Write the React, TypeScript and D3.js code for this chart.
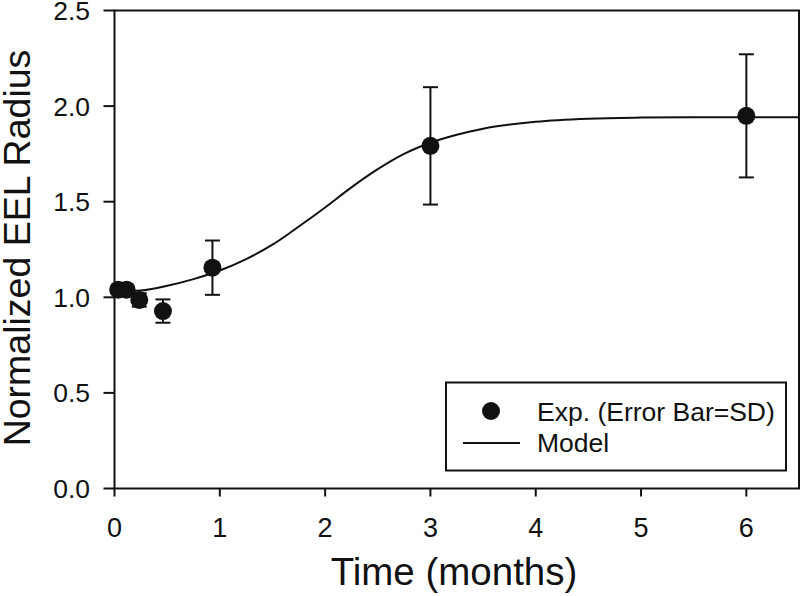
import React from "react";
import * as d3 from "d3";

// Experimental data (time in months, normalized EEL radius, SD)
const expTime = [0.035, 0.115, 0.235, 0.46, 0.93, 3.0, 6.0];
const expValue = [1.04, 1.04, 0.986, 0.928, 1.155, 1.792, 1.949];
const expSD = [0.02, 0.02, 0.035, 0.061, 0.142, 0.307, 0.322];

// Model curve
const modelTime = [0, 0.25, 0.5, 0.75, 1.0, 1.25, 1.5, 1.75, 2.0, 2.25, 2.5, 2.75, 3.0, 3.25, 3.5, 4.0, 4.5, 5.0, 5.5, 6.0, 6.5];
const modelValue = [1.03, 1.035, 1.06, 1.095, 1.14, 1.2, 1.275, 1.37, 1.47, 1.575, 1.67, 1.75, 1.808, 1.85, 1.882, 1.918, 1.934, 1.94, 1.942, 1.942, 1.942];

const xTicks = [0, 1, 2, 3, 4, 5, 6];
const yTicks = [0, 0.5, 1.0, 1.5, 2.0, 2.5];

const xLabel = "Time (months)";
const yLabel = "Normalized EEL Radius";
const legendLabels = ["Exp. (Error Bar=SD)", "Model"];

const W = 800;
const H = 596;
const left = 114.5;
const right = 799;
const top = 10.5;
const bottom = 488.5;
const font = "'Liberation Sans', Arial, Helvetica, sans-serif";

export default function App() {
  const x = d3.scaleLinear().domain([0, 6.5]).range([left, right]);
  const y = d3.scaleLinear().domain([0, 2.5]).range([bottom, top]);

  const line = d3
    .line<number>()
    .x((_, i) => x(modelTime[i]))
    .y((d) => y(d))
    .curve(d3.curveMonotoneX);

  const cap = 7.5;

  return (
    <svg
      width={W}
      height={H}
      style={{ position: "absolute", left: 0, top: 0, background: "#fff" }}
      fontFamily={font}
    >
      <rect x={0} y={0} width={W} height={H} fill="#fff" />
      {/* frame */}
      <rect
        x={left}
        y={top}
        width={right - left}
        height={bottom - top}
        fill="none"
        stroke="#111"
        strokeWidth={2}
      />
      {/* y ticks */}
      {yTicks.map((t) => (
        <g key={"y" + t}>
          <line x1={left - 11} x2={left} y1={y(t)} y2={y(t)} stroke="#111" strokeWidth={2} />
          <text
            x={90}
            y={y(t)}
            dy="0.36em"
            textAnchor="end"
            fontSize={26.5}
            fill="#111"
          >
            {t.toFixed(1)}
          </text>
        </g>
      ))}
      {/* x ticks */}
      {xTicks.map((t) => (
        <g key={"x" + t}>
          <line x1={x(t)} x2={x(t)} y1={bottom} y2={bottom + 8} stroke="#111" strokeWidth={2} />
          <text x={x(t)} y={537} textAnchor="middle" fontSize={27} fill="#111">
            {t}
          </text>
        </g>
      ))}
      {/* axis titles */}
      <text x={454} y={585} textAnchor="middle" fontSize={38.5} fill="#111">
        {xLabel}
      </text>
      <text
        transform={`translate(30,${248}) rotate(-90)`}
        textAnchor="middle"
        fontSize={37.5}
        fill="#111"
      >
        {yLabel}
      </text>
      {/* model curve */}
      <path d={line(modelValue) || ""} fill="none" stroke="#111" strokeWidth={2} />
      {/* error bars */}
      {expTime.map((t, i) => {
        const cx = x(t);
        const y1 = y(expValue[i] + expSD[i]);
        const y2 = y(expValue[i] - expSD[i]);
        return (
          <g key={"e" + i} stroke="#111" strokeWidth={2}>
            <line x1={cx} x2={cx} y1={y1} y2={y2} />
            <line x1={cx - cap} x2={cx + cap} y1={y1} y2={y1} />
            <line x1={cx - cap} x2={cx + cap} y1={y2} y2={y2} />
          </g>
        );
      })}
      {/* points */}
      {expTime.map((t, i) => (
        <circle key={"p" + i} cx={x(t)} cy={y(expValue[i])} r={9} fill="#111" />
      ))}
      {/* legend */}
      <rect x={446} y={382.5} width={340} height={88} fill="#fff" stroke="#111" strokeWidth={2} />
      <circle cx={491} cy={411} r={9} fill="#111" />
      <text x={537} y={421} fontSize={26.5} fill="#111">
        {legendLabels[0]}
      </text>
      <line x1={463} x2={520} y1={443} y2={443} stroke="#111" strokeWidth={2} />
      <text x={537} y={452} fontSize={26.5} fill="#111">
        {legendLabels[1]}
      </text>
    </svg>
  );
}
